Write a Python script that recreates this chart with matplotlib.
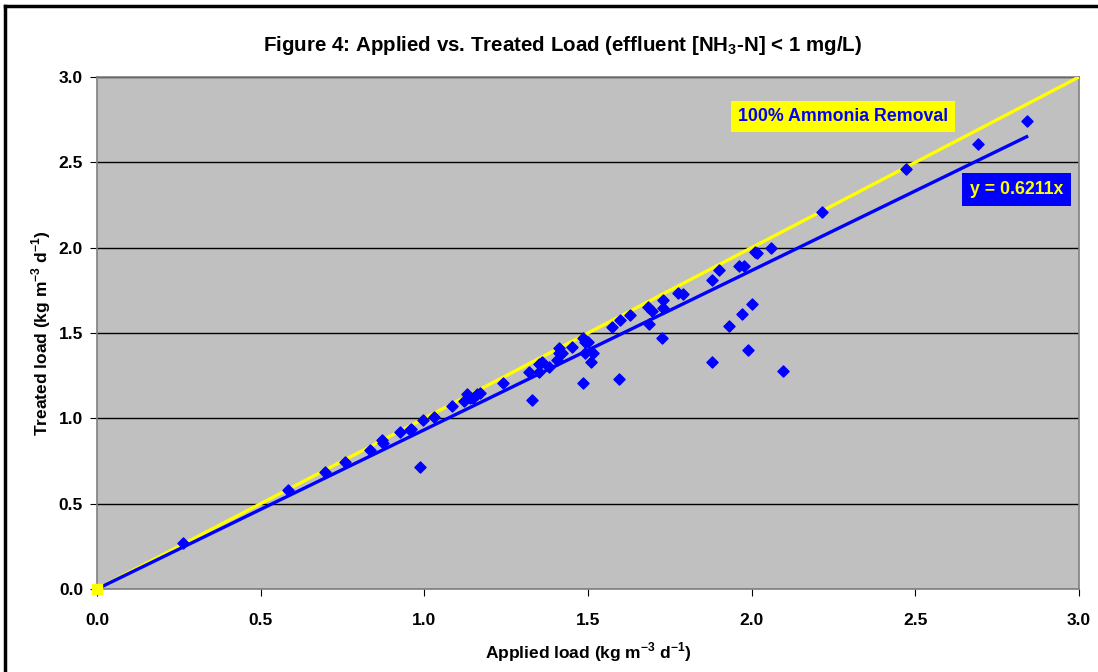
import matplotlib.pyplot as plt
from matplotlib.lines import Line2D

plt.rcParams['font.family'] = ['Liberation Sans', 'DejaVu Sans']
plt.rcParams['font.weight'] = 'bold'
plt.rcParams['mathtext.fontset'] = 'custom'
plt.rcParams['mathtext.rm'] = 'Liberation Sans:bold'
plt.rcParams['mathtext.bf'] = 'Liberation Sans:bold'

# measured points (applied, treated) in kg m-3 d-1
applied = [0.263, 0.583, 0.697, 0.758, 0.834, 0.874, 0.871, 0.926, 0.960, 0.956,
           0.996, 0.987, 1.03, 1.085, 1.12, 1.13, 1.14, 1.15, 1.16, 1.17,
           1.24, 1.32, 1.33, 1.35, 1.35, 1.36, 1.38, 1.405, 1.41, 1.42,
           1.41, 1.45, 1.485, 1.49, 1.50, 1.49, 1.515, 1.51, 1.485, 1.595,
           1.573, 1.598, 1.628, 1.683, 1.696, 1.729, 1.729, 1.687, 1.726, 1.775,
           1.790, 1.88, 1.90, 1.96, 1.977, 2.01, 2.015, 2.06, 2.0, 1.97,
           1.93, 1.99, 1.88, 2.096, 2.215, 2.47, 2.69, 2.84]
treated = [0.27, 0.58, 0.685, 0.744, 0.814, 0.855, 0.873, 0.92, 0.94, 0.93,
           0.99, 0.715, 1.01, 1.07, 1.10, 1.14, 1.12, 1.12, 1.14, 1.15,
           1.21, 1.27, 1.11, 1.27, 1.32, 1.33, 1.30, 1.34, 1.38, 1.38,
           1.41, 1.42, 1.47, 1.45, 1.45, 1.38, 1.38, 1.33, 1.21, 1.23,
           1.535, 1.576, 1.605, 1.652, 1.629, 1.693, 1.646, 1.552, 1.470, 1.734,
           1.728, 1.81, 1.87, 1.89, 1.89, 1.975, 1.97, 2.0, 1.67, 1.61,
           1.54, 1.40, 1.33, 1.277, 2.21, 2.46, 2.61, 2.74]

ideal_x = [0.0, 3.0]
ideal_y = [0.0, 3.0]
trend_x = [0.0, 2.84]
trend_y = [0.0, 2.65]

ticks = [0.0, 0.5, 1.0, 1.5, 2.0, 2.5, 3.0]

fig = plt.figure(figsize=(10.98, 6.72), dpi=100)
ax = fig.add_axes([0.0883, 0.1235, 0.8944, 0.7619])
ax.set_facecolor('#C0C0C0')

ax.plot(ideal_x, ideal_y, color='#FFFF00', lw=2.4, zorder=3)
ax.plot(trend_x, trend_y, color='#0000FF', lw=2.4, zorder=3)
ax.scatter(applied, treated, marker='D', s=32, color='#0000FF', zorder=4)
ax.scatter([0], [0], marker='s', s=55, color='#FFFF00', zorder=5, clip_on=False)

ax.set_xlim(0, 3)
ax.set_ylim(0, 3)
ax.set_xticks(ticks)
ax.set_yticks(ticks)
ax.set_xticklabels(['%.1f' % t for t in ticks], fontsize=12.5, fontweight='bold')
ax.set_yticklabels(['%.1f' % t for t in ticks], fontsize=12.5, fontweight='bold')
ax.tick_params(direction='out', length=5, color='black', pad=5)
ax.tick_params(axis='x', pad=12)
ax.yaxis.grid(True, color='black', lw=1)
ax.set_axisbelow(True)
for s in ax.spines.values():
    s.set_color('#808080')
    s.set_linewidth(1.2)

ax.set_xlabel('Applied load (kg m$^{-3}$ d$^{-1}$)', fontsize=12.5, fontweight='bold', labelpad=9)
ax.set_ylabel('Treated load (kg m$^{-3}$ d$^{-1}$)', fontsize=12.5, fontweight='bold', labelpad=4)
fig.text(0.512, 0.932, 'Figure 4: Applied vs. Treated Load (effluent [NH$_{3}$-N] < 1 mg/L)',
         ha='center', va='center', fontsize=14.8, fontweight='bold')

ax.text(2.28, 2.77, '100% Ammonia Removal', ha='center', va='center', fontsize=12.8,
        fontweight='bold', color='#0000FF',
        bbox=dict(boxstyle='square,pad=0.4', fc='#FFFF00', ec='none'))
ax.text(2.81, 2.34, 'y = 0.6211x', ha='center', va='center', fontsize=12.8,
        fontweight='bold', color='#FFFF00',
        bbox=dict(boxstyle='square,pad=0.45', fc='#0000FF', ec='none'))

# outer chart frame: only the left and top edges fall inside the image
fx = 5 / 1098
fy = 1 - 6 / 672
fig.add_artist(Line2D([fx, fx], [0, fy], transform=fig.transFigure, color='black', lw=2.5))
fig.add_artist(Line2D([fx, 1], [fy, fy], transform=fig.transFigure, color='black', lw=2.5))

fig.savefig('out.png', dpi=100)
